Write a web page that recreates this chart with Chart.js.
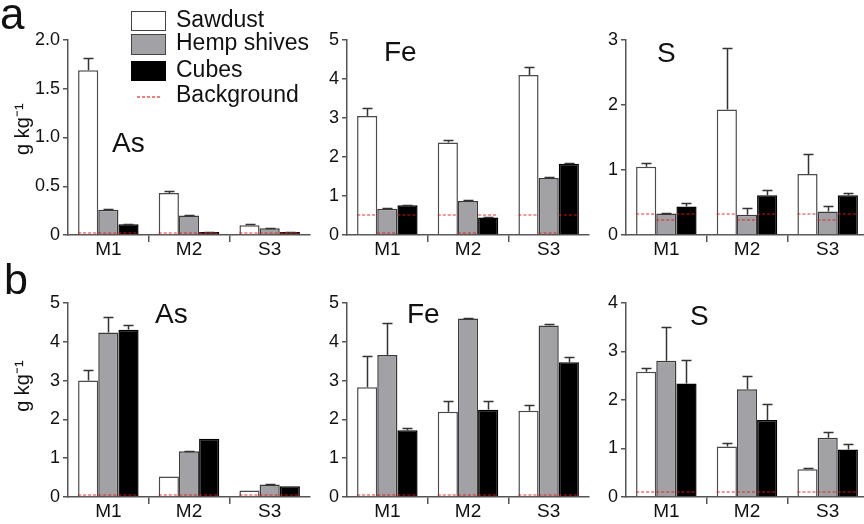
<!DOCTYPE html>
<html><head><meta charset="utf-8">
<script src="https://cdn.jsdelivr.net/npm/chart.js@4.4.0/dist/chart.umd.min.js"></script>
<style>
html,body{margin:0;padding:0;width:864px;height:524px;overflow:hidden;background:#fff;font-family:"Liberation Sans",Arial,sans-serif;}
canvas{position:absolute;}
.t{position:absolute;line-height:1;white-space:nowrap;color:#111;z-index:5;}
.box{position:absolute;box-sizing:border-box;border:1.5px solid #444;z-index:5;}
.dash{position:absolute;height:1.5px;background:repeating-linear-gradient(to right, rgba(235,40,40,0.6) 0px, rgba(235,40,40,0.6) 3px, rgba(255,255,255,0) 3px, rgba(255,255,255,0) 5px);z-index:5;}
</style></head><body>

<canvas id="aAs" width="310" height="262" style="left:6px;top:0px"></canvas>
<canvas id="aFe" width="295" height="262" style="left:300px;top:0px"></canvas>
<canvas id="aS" width="295" height="262" style="left:579px;top:0px"></canvas>
<canvas id="bAs" width="310" height="262" style="left:6px;top:262px"></canvas>
<canvas id="bFe" width="295" height="262" style="left:300px;top:262px"></canvas>
<canvas id="bS" width="295" height="262" style="left:579px;top:262px"></canvas>

<div class="t" style="left:0px;top:-8px;font-size:44px">a</div>
<div class="t" style="left:4px;top:258px;font-size:43px">b</div>

<div class="t" style="left:112px;top:129px;font-size:28px">As</div>
<div class="t" style="left:384px;top:38px;font-size:28px">Fe</div>
<div class="t" style="left:657px;top:39px;font-size:28px">S</div>
<div class="t" style="left:155px;top:300px;font-size:28px">As</div>
<div class="t" style="left:407px;top:300px;font-size:28px">Fe</div>
<div class="t" style="left:690px;top:302px;font-size:28px">S</div>

<div class="box" style="left:131px;top:11px;width:35px;height:20px;background:#fff"></div>
<div class="box" style="left:131px;top:34px;width:35px;height:21px;background:#a2a2a6"></div>
<div class="box" style="left:131px;top:61px;width:35px;height:20px;background:#000;border-color:#000"></div>
<div class="dash" style="left:137px;top:96px;width:23px"></div>
<div class="t" style="left:176px;top:8px;font-size:23px">Sawdust</div>
<div class="t" style="left:176px;top:31px;font-size:23px">Hemp shives</div>
<div class="t" style="left:176px;top:58px;font-size:23px">Cubes</div>
<div class="t" style="left:176px;top:83px;font-size:23px">Background</div>

<script>
const categories = ['M1', 'M2', 'S3'];
const seriesNames = ['Sawdust', 'Hemp shives', 'Cubes'];

// rows: Sawdust, Hemp shives, Cubes ; columns: M1, M2, S3
const aAsMean = [[1.69, 0.43, 0.10], [0.26, 0.20, 0.07], [0.11, 0.03, 0.03]];
const aAsErr  = [[1.82, 0.45, 0.11], [0.27, 0.21, 0.075], [0.115, 0.035, 0.033]];
const aAsBg   = [0.006, 0.006, 0.006];

const aFeMean = [[3.05, 2.37, 4.10], [0.67, 0.87, 1.46], [0.76, 0.45, 1.83]];
const aFeErr  = [[3.25, 2.44, 4.30], [0.69, 0.89, 1.48], [0.78, 0.46, 1.85]];
const aFeBg   = [0.48, 0.02, 0.48];

const aSMean = [[1.05, 1.93, 0.94], [0.33, 0.31, 0.36], [0.44, 0.61, 0.61]];
const aSErr  = [[1.11, 2.87, 1.25], [0.34, 0.42, 0.45], [0.49, 0.70, 0.64]];
const aSBg   = [0.31, 0.21, 0.31];

const bAsMean = [[3.00, 0.53, 0.17], [4.24, 1.18, 0.32], [4.31, 1.50, 0.28]];
const bAsErr  = [[3.28, 0.53, 0.17], [4.63, 1.19, 0.33], [4.44, 1.50, 0.28]];
const bAsBg   = [0.015, 0.015, 0.015];

const bFeMean = [[2.83, 2.20, 2.22], [3.66, 4.60, 4.42], [1.72, 2.25, 3.47]];
const bFeErr  = [[3.64, 2.48, 2.36], [4.48, 4.61, 4.46], [1.77, 2.47, 3.62]];
const bFeBg   = [0.015, 0.015, 0.015];

const bSMean = [[2.58, 1.04, 0.57], [2.81, 2.22, 1.22], [2.34, 1.59, 0.98]];
const bSErr  = [[2.67, 1.12, 0.60], [3.51, 2.50, 1.33], [2.83, 1.92, 1.10]];
const bSBg   = [0.08, 0.08, 0.08];

const fills = ['#ffffff', '#a2a2a6', '#000000'];
const borders = ['#4a4a4a', '#3a3a3a', '#000000'];

Chart.defaults.font.family = '"Liberation Sans", Arial, sans-serif';
Chart.defaults.color = '#111';

const errorBarPlugin = {
  id: 'errbars',
  afterDatasetsDraw(chart) {
    const ctx = chart.ctx;
    const ys = chart.scales.y;
    chart.data.datasets.forEach((ds, di) => {
      const meta = chart.getDatasetMeta(di);
      meta.data.forEach((bar, i) => {
        const p = bar.getProps(['x', 'width'], true);
        const v = ds.data[i];
        const top = ds.errTop[i];
        ctx.save();
        if (top > v) {
          const y0 = ys.getPixelForValue(v);
          const y1 = Math.round(ys.getPixelForValue(top)) + 0.5;
          const xc = Math.round(p.x) + 0.5;
          ctx.strokeStyle = '#333';
          ctx.lineWidth = 1.5;
          ctx.beginPath();
          ctx.moveTo(xc, y0);
          ctx.lineTo(xc, y1);
          ctx.moveTo(xc - 5, y1);
          ctx.lineTo(xc + 5, y1);
          ctx.stroke();
        }
        const by = Math.round(ys.getPixelForValue(ds.bgLevel)) - 1;
        ctx.strokeStyle = 'rgba(235,20,20,0.6)';
        ctx.lineWidth = 1.5;
        ctx.setLineDash([3, 2]);
        ctx.beginPath();
        ctx.moveTo(p.x - p.width / 2, by);
        ctx.lineTo(p.x + p.width / 2, by);
        ctx.stroke();
        ctx.restore();
      });
    });
  }
};

function makeChart(id, means, errs, bgs, yMax, yStep, fmt, yWidth, padTop, title) {
  const datasets = seriesNames.map((name, k) => ({
    label: name,
    data: means[k],
    errTop: errs[k],
    bgLevel: bgs[k],
    backgroundColor: fills[k],
    borderColor: borders[k],
    borderWidth: 1.5,
    categoryPercentage: 0.75,
    barPercentage: 1.0
  }));
  const axisColor = '#555';
  const xGrid = (c) => (c.index === undefined || c.index === 0) ? 'rgba(0,0,0,0)' : axisColor;
  return new Chart(document.getElementById(id), {
    type: 'bar',
    data: { labels: categories, datasets },
    plugins: [errorBarPlugin],
    options: {
      responsive: false,
      animation: false,
      devicePixelRatio: 1,
      layout: { padding: { top: padTop, right: 6, left: 0, bottom: 0 } },
      plugins: { legend: { display: false }, tooltip: { enabled: false } },
      scales: {
        x: {
          grid: { offset: true, drawOnChartArea: false, drawTicks: true, tickLength: 7, color: xGrid, tickColor: xGrid, lineWidth: 1.5 },
          border: { display: true, color: axisColor, width: 1.5 },
          ticks: { font: { size: 19 }, color: '#111', padding: -4 },
          afterFit: (s) => { s.height = 27; }
        },
        y: {
          min: 0, max: yMax,
          grid: { drawOnChartArea: false, drawTicks: true, tickLength: 5, color: axisColor, lineWidth: 1.5 },
          border: { display: true, color: axisColor, width: 1.5 },
          ticks: { stepSize: yStep, font: { size: 18 }, color: '#111', padding: 3, callback: fmt },
          title: title ? { display: true, text: title, font: { size: 20 }, color: '#111', padding: { top: 5, bottom: 0 } } : { display: false },
          afterFit: (s) => { s.width = yWidth; }
        }
      }
    }
  });
}

const fmtDec = (v) => v === 0 ? '0' : v.toFixed(1);
const fmtInt = (v) => String(v);

makeChart('aAs', aAsMean, aAsErr, aAsBg, 2, 0.5, fmtDec, 62, 40, '   g kg\u207B\u00B9');
makeChart('aFe', aFeMean, aFeErr, aFeBg, 5, 1, fmtInt, 47, 40, null);
makeChart('aS', aSMean, aSErr, aSBg, 3, 1, fmtInt, 47, 40, null);
makeChart('bAs', bAsMean, bAsErr, bAsBg, 5, 1, fmtInt, 62, 41, '     g kg\u207B\u00B9');
makeChart('bFe', bFeMean, bFeErr, bFeBg, 5, 1, fmtInt, 47, 41, null);
makeChart('bS', bSMean, bSErr, bSBg, 4, 1, fmtInt, 47, 41, null);
</script>
</body></html>
